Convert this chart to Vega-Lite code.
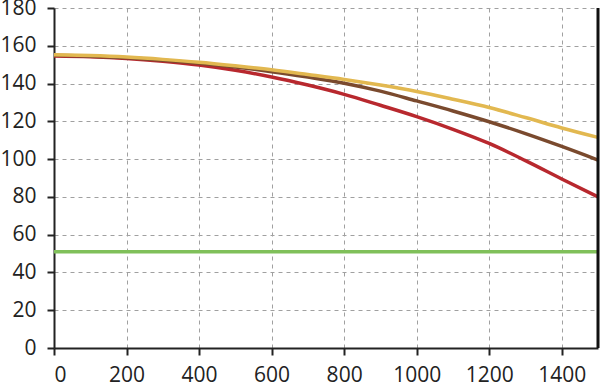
{
  "$schema": "https://vega.github.io/schema/vega-lite/v6.json",
  "width": 544,
  "height": 340,
  "autosize": {"type": "none"},
  "padding": {"left": 54, "top": 8, "right": 2, "bottom": 40},
  "config": {
    "view": {"stroke": null},
    "axis": {
      "labelFont": "Open Sans",
      "labelFontSize": 21,
      "labelColor": "#222222",
      "labelOverlap": false,
      "domainColor": "#222222",
      "domainWidth": 2,
      "tickColor": "#222222",
      "tickWidth": 2,
      "tickSize": 7,
      "gridColor": "#a0a0a0",
      "gridDash": [4, 4],
      "gridWidth": 1,
      "title": null
    }
  },
  "layer": [
    {
      "data": {
        "values": [
          {"x": 0, "y": 51, "s": "green"},
          {"x": 1500, "y": 51, "s": "green"},
          {"x": 0, "y": 154.6, "s": "red"},
          {"x": 100, "y": 154.2, "s": "red"},
          {"x": 200, "y": 153.3, "s": "red"},
          {"x": 300, "y": 151.8, "s": "red"},
          {"x": 400, "y": 149.8, "s": "red"},
          {"x": 500, "y": 147.0, "s": "red"},
          {"x": 600, "y": 143.5, "s": "red"},
          {"x": 700, "y": 139.2, "s": "red"},
          {"x": 800, "y": 134.3, "s": "red"},
          {"x": 900, "y": 128.5, "s": "red"},
          {"x": 1000, "y": 122.5, "s": "red"},
          {"x": 1100, "y": 115.8, "s": "red"},
          {"x": 1200, "y": 108.3, "s": "red"},
          {"x": 1300, "y": 99.2, "s": "red"},
          {"x": 1400, "y": 89.5, "s": "red"},
          {"x": 1500, "y": 80.0, "s": "red"},
          {"x": 0, "y": 155.0, "s": "brown"},
          {"x": 100, "y": 154.5, "s": "brown"},
          {"x": 200, "y": 153.6, "s": "brown"},
          {"x": 300, "y": 152.3, "s": "brown"},
          {"x": 400, "y": 150.7, "s": "brown"},
          {"x": 500, "y": 148.7, "s": "brown"},
          {"x": 600, "y": 146.3, "s": "brown"},
          {"x": 700, "y": 143.4, "s": "brown"},
          {"x": 800, "y": 140.2, "s": "brown"},
          {"x": 900, "y": 136.0, "s": "brown"},
          {"x": 1000, "y": 130.8, "s": "brown"},
          {"x": 1100, "y": 125.5, "s": "brown"},
          {"x": 1200, "y": 119.8, "s": "brown"},
          {"x": 1300, "y": 113.5, "s": "brown"},
          {"x": 1400, "y": 106.7, "s": "brown"},
          {"x": 1500, "y": 99.5, "s": "brown"},
          {"x": 0, "y": 155.3, "s": "yellow"},
          {"x": 100, "y": 154.8, "s": "yellow"},
          {"x": 200, "y": 154.0, "s": "yellow"},
          {"x": 300, "y": 152.8, "s": "yellow"},
          {"x": 400, "y": 151.3, "s": "yellow"},
          {"x": 500, "y": 149.4, "s": "yellow"},
          {"x": 600, "y": 147.3, "s": "yellow"},
          {"x": 700, "y": 144.8, "s": "yellow"},
          {"x": 800, "y": 142.2, "s": "yellow"},
          {"x": 900, "y": 139.2, "s": "yellow"},
          {"x": 1000, "y": 135.8, "s": "yellow"},
          {"x": 1100, "y": 131.7, "s": "yellow"},
          {"x": 1200, "y": 127.3, "s": "yellow"},
          {"x": 1300, "y": 122.0, "s": "yellow"},
          {"x": 1400, "y": 116.5, "s": "yellow"},
          {"x": 1500, "y": 111.5, "s": "yellow"}
        ]
      },
      "mark": {"type": "line", "strokeWidth": 3.5, "interpolate": "monotone"},
      "encoding": {
        "x": {
          "field": "x",
          "type": "quantitative",
          "scale": {"domain": [0, 1500], "nice": false},
          "axis": {"values": [0, 200, 400, 600, 800, 1000, 1200, 1400], "labelPadding": 9, "format": "d"}
        },
        "y": {
          "field": "y",
          "type": "quantitative",
          "scale": {"domain": [0, 180], "nice": false},
          "axis": {"values": [0, 20, 40, 60, 80, 100, 120, 140, 160, 180], "labelPadding": 11, "format": "d", "zindex": 0}
        },
        "color": {
          "field": "s",
          "type": "nominal",
          "scale": {"domain": ["green", "red", "brown", "yellow"], "range": ["#80c05a", "#b8282e", "#7a4a2e", "#e2b850"]},
          "legend": null
        }
      }
    },
    {
      "data": {"values": [{"x": 1500, "ylo": 0, "yhi": 180}]},
      "mark": {"type": "rule", "color": "#111111", "strokeWidth": 3, "opacity": 1, "clip": false},
      "encoding": {
        "x": {
          "field": "x",
          "type": "quantitative",
          "axis": {"values": [0, 200, 400, 600, 800, 1000, 1200, 1400], "labelPadding": 9, "format": "d"}
        },
        "y": {
          "field": "ylo",
          "type": "quantitative",
          "axis": {"values": [0, 20, 40, 60, 80, 100, 120, 140, 160, 180], "labelPadding": 11, "format": "d", "zindex": 0}
        },
        "y2": {"field": "yhi"}
      }
    }
  ]
}
